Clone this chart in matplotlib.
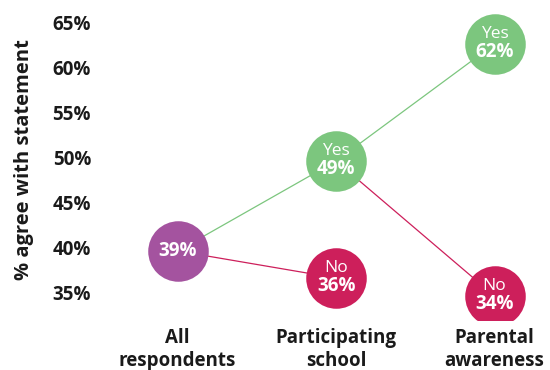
import matplotlib.pyplot as plt
from matplotlib.transforms import ScaledTranslation

categories = ["All\nrespondents", "Participating\nschool", "Parental\nawareness"]
all_value = 39
school_yes = 49
school_no = 36
parent_yes = 62
parent_no = 34
y_ticks = [35, 40, 45, 50, 55, 60, 65]

PURPLE = "#A4539F"
GREEN = "#7CC67E"
RED = "#CD1F5B"
INK = "#1a1a1a"

plt.rcParams["font.family"] = ["Open Sans", "DejaVu Sans"]

fig = plt.figure(figsize=(5.5, 3.7), dpi=100)
ax = fig.add_axes([100 / 550, 50 / 370, 450 / 550, 320 / 370])

# connecting lines (behind the bubbles)
ax.plot([0, 1, 2], [all_value, school_yes, parent_yes], color=GREEN, lw=0.9, zorder=1)
ax.plot([0, 1], [all_value, school_no], color=RED, lw=0.9, zorder=1)
ax.plot([1, 2], [school_yes, parent_no], color=RED, lw=0.9, zorder=1)

bubble_size = 1900
ax.scatter([0], [all_value], s=bubble_size, color=PURPLE, zorder=3, linewidths=0)
ax.scatter([1, 2], [school_yes, parent_yes], s=bubble_size, color=GREEN, zorder=3, linewidths=0)
ax.scatter([1, 2], [school_no, parent_no], s=bubble_size, color=RED, zorder=3, linewidths=0)

ax.annotate(f"{all_value}%", (0, all_value), ha="center", va="center",
            color="white", fontsize=13.5, fontweight="bold", zorder=4)

bubbles = [
    (1, school_yes, "Yes"),
    (2, parent_yes, "Yes"),
    (1, school_no, "No"),
    (2, parent_no, "No"),
]
for x, v, word in bubbles:
    ax.annotate(word, (x, v), xytext=(0, 7.5), textcoords="offset points",
                ha="center", va="center", color="white", fontsize=12.5, zorder=4)
    ax.annotate(f"{v}%", (x, v), xytext=(0, -6), textcoords="offset points",
                ha="center", va="center", color="white", fontsize=13.5,
                fontweight="bold", zorder=4)

ax.set_xlim(-0.49, 2.35)
ax.set_ylim(31.33, 66.89)

# y labels sit a little below their value in the original
ax.set_yticks([])
label_tr = ax.get_yaxis_transform() + ScaledTranslation(-9 / 100, -8 / 100, fig.dpi_scale_trans)
for t in y_ticks:
    ax.text(0, t, f"{t}%", transform=label_tr, ha="right", va="center",
            fontsize=13.5, fontweight="bold", color=INK)

ax.set_xticks([0, 1, 2])
ax.set_xticklabels(categories, fontsize=13.5, fontweight="bold", linespacing=1.15, color=INK)
ax.tick_params(axis="both", length=0)
ax.tick_params(axis="x", pad=6)

ax.set_ylabel("% agree with statement", fontsize=14.5, fontweight="bold", color=INK)
ax.yaxis.set_label_coords(-0.147, 0.50)

for s in ax.spines.values():
    s.set_visible(False)

fig.savefig("out.png", dpi=100)
